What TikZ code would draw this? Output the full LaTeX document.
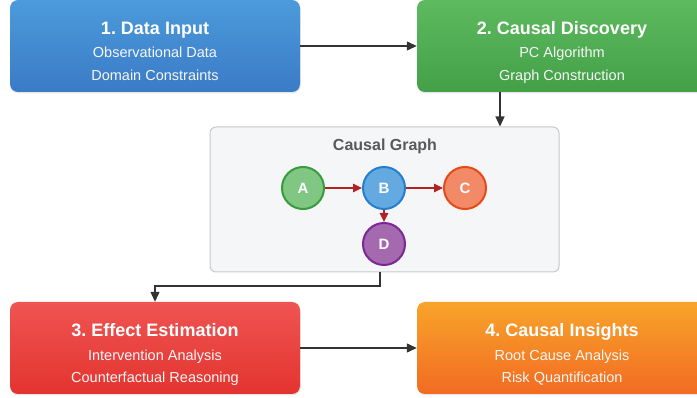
\documentclass[tikz,border=0pt]{standalone}
\usepackage{fontspec}
\setmainfont{Liberation Sans}
\usetikzlibrary{arrows.meta,shadows}
\frenchspacing

\definecolor{blueT}{HTML}{4C9ADB}
\definecolor{blueB}{HTML}{3A7BC6}
\definecolor{greenT}{HTML}{5DBA5F}
\definecolor{greenB}{HTML}{43A047}
\definecolor{redT}{HTML}{EF5452}
\definecolor{redB}{HTML}{E3342F}
\definecolor{orT}{HTML}{F8A42A}
\definecolor{orB}{HTML}{F26B22}
\definecolor{flow}{HTML}{333333}
\definecolor{panel}{HTML}{F4F6F8}
\definecolor{panelline}{HTML}{C6C9CC}
\definecolor{edgered}{HTML}{B22222}
\definecolor{aLine}{HTML}{389B3C}
\definecolor{aFill}{HTML}{81C784}
\definecolor{bLine}{HTML}{257DD2}
\definecolor{bFill}{HTML}{64AAE0}
\definecolor{cLine}{HTML}{E64A19}
\definecolor{cFill}{HTML}{F28A68}
\definecolor{dLine}{HTML}{7B2896}
\definecolor{dFill}{HTML}{A569AF}

\tikzset{
  stagebox/.style={draw=none, rounded corners=8pt, minimum width=290pt,
    minimum height=92pt, inner sep=0pt,
    drop shadow={opacity=0.18, shadow xshift=0.8pt, shadow yshift=-1.5pt}},
  stagetitle/.style={anchor=base, text=white, font=\fontsize{18}{20}\selectfont\bfseries},
  stageline/.style={anchor=base, text=white!94!gray, font=\fontsize{14.5}{16}\selectfont},
  flowarrow/.style={draw=flow, line width=1.2pt, -{Triangle[length=10pt,width=9pt]}},
  gnode/.style={circle, minimum size=42pt, inner sep=0pt, line width=2pt,
    text=white, font=\fontsize{15}{17}\selectfont\bfseries},
  gedge/.style={draw=edgered, line width=1.2pt, -{Triangle[length=9pt,width=8.5pt]}}
}

\begin{document}
\begin{tikzpicture}[x=1pt,y=-1pt]
\useasboundingbox (0,0) rectangle (697,398);

% stage boxes
\node[stagebox, top color=blueT, bottom color=blueB] (s1) at (155,46) {};
\node[stagebox, top color=greenT, bottom color=greenB] (s2) at (562,46) {};
\node[stagebox, top color=redT, bottom color=redB] (s3) at (155,348) {};
\node[stagebox, top color=orT, bottom color=orB] (s4) at (562,348) {};

% stage texts
\node[stagetitle] (s1t) at ([yshift=11.5pt]s1.center) {1. Data Input};
\node[stageline] (s1a) at ([yshift=-12pt]s1.center) {Observational Data};
\node[stageline] (s1b) at ([yshift=-35pt]s1.center) {Domain Constraints};

\node[stagetitle] (s2t) at ([yshift=11.5pt]s2.center) {2. Causal Discovery};
\node[stageline] (s2a) at ([yshift=-12pt]s2.center) {PC Algorithm};
\node[stageline] (s2b) at ([yshift=-35pt]s2.center) {Graph Construction};

\node[stagetitle] (s3t) at ([yshift=11pt]s3.center) {3. Effect Estimation};
\node[stageline] (s3a) at ([yshift=-12.5pt]s3.center) {Intervention Analysis};
\node[stageline] (s3b) at ([yshift=-35pt]s3.center) {Counterfactual Reasoning};

\node[stagetitle] (s4t) at ([yshift=11pt]s4.center) {4. Causal Insights};
\node[stageline] (s4a) at ([yshift=-12.5pt]s4.center) {Root Cause Analysis};
\node[stageline] (s4b) at ([yshift=-35pt]s4.center) {Risk Quantification};

% causal graph panel
\node[draw=panelline, fill=panel, line width=1pt, rounded corners=6pt,
      minimum width=349pt, minimum height=145pt, inner sep=0pt] (panel) at (384.5,199.5) {};
\node[anchor=base, text=black!65, font=\fontsize{16}{18}\selectfont\bfseries] (ptitle) at (385,151) {Causal Graph};

\node[gnode, draw=aLine, fill=aFill] (A) at (303,188) {A};
\node[gnode, draw=bLine, fill=bFill] (B) at (384,188) {B};
\node[gnode, draw=cLine, fill=cFill] (C) at (465,188) {C};
\node[gnode, draw=dLine, fill=dFill] (D) at (384,244) {D};

\draw[gedge] (A) -- (B);
\draw[gedge] (B) -- (C);
\draw[gedge] (B) -- (D);

% flow connectors
\draw[flowarrow] (s1.east) -- (s2.west);
\draw[flowarrow] (s2.south -| 500,0) -- (panel.north -| 500,0);
\coordinate (bend) at (380,286);
\draw[flowarrow] (panel.south -| bend) -- (bend) -| (s3.north);
\draw[flowarrow] (s3.east) -- (s4.west);
\end{tikzpicture}
\end{document}
